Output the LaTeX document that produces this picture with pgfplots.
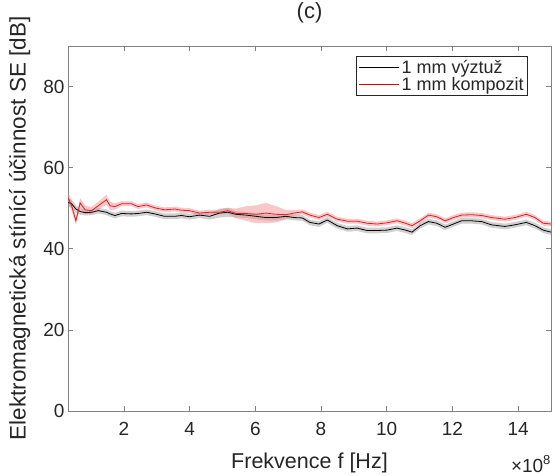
\documentclass[border=0pt]{standalone}
\usepackage{fontspec}
\setmainfont{Liberation Sans}
\usepackage{pgfplots}
\pgfplotsset{compat=1.18}
\usepackage{pgfplotstable}
\usepgfplotslibrary{fillbetween}

\definecolor{axgray}{RGB}{130,130,130}
\definecolor{txt}{RGB}{38,38,38}
\definecolor{redline}{RGB}{220,30,40}
\definecolor{pinkband}{RGB}{240,130,130}
\definecolor{grayband}{RGB}{150,150,150}

% x in 1e8 Hz, y = SE [dB], e = half width of the band
\pgfplotstableread{
x y e
0.31 51.4 1.0
0.41 51.1 1.0
0.54 49.8 0.9
0.67 49.2 0.8
0.82 48.9 0.7
1.02 49.0 0.7
1.22 49.4 0.7
1.47 49.0 0.7
1.58 48.6 0.7
1.73 48.2 0.7
1.93 48.7 0.7
2.23 48.6 0.7
2.43 48.7 0.7
2.69 49.0 0.7
2.94 48.6 0.7
3.24 48.0 0.7
3.55 48.0 0.7
3.75 48.2 0.7
4.00 47.9 0.7
4.30 48.3 0.7
4.61 48.0 0.8
4.91 48.8 1.1
5.16 49.0 1.1
5.41 48.5 0.8
5.72 48.3 0.7
6.02 48.0 0.7
6.32 47.7 0.7
6.63 47.7 0.7
6.93 48.0 0.7
7.18 47.7 0.7
7.43 47.6 0.7
7.66 46.5 0.7
7.94 46.1 0.7
8.19 47.1 0.7
8.49 45.7 0.7
8.80 44.9 0.7
9.10 45.1 0.7
9.40 44.5 0.7
9.71 44.5 0.7
10.01 44.6 0.7
10.31 45.1 0.7
10.57 44.6 0.7
10.77 44.1 0.7
11.02 45.7 0.7
11.27 46.7 0.7
11.52 46.3 0.7
11.78 45.3 0.7
12.03 46.1 0.7
12.28 46.9 0.7
12.58 46.9 0.7
12.89 46.7 0.7
13.19 45.9 0.7
13.60 45.5 0.7
13.90 45.9 0.7
14.25 46.5 0.7
14.51 45.7 0.7
14.76 44.6 0.7
15.00 44.1 0.7
}\vyztuz

\pgfplotstableread{
x y e
0.31 52.5 1.5
0.41 50.6 1.3
0.54 46.9 1.0
0.67 51.3 1.2
0.82 49.6 1.0
1.02 49.4 0.9
1.22 50.6 1.0
1.47 52.1 1.2
1.58 50.6 1.0
1.73 50.4 0.8
1.93 51.1 0.6
2.23 51.1 0.6
2.43 50.4 0.6
2.69 50.8 0.6
2.94 50.1 0.6
3.24 49.6 0.6
3.55 49.8 0.6
3.75 49.5 0.6
4.00 49.4 0.6
4.30 48.8 0.6
4.61 49.0 0.6
4.91 49.0 0.6
5.16 49.4 0.7
5.41 48.7 1.2
5.72 48.7 1.8
6.02 48.5 2.2
6.32 48.8 2.5
6.63 48.5 2.0
6.93 48.4 1.2
7.18 48.8 0.7
7.43 49.1 0.6
7.66 48.3 0.6
7.94 47.7 0.6
8.19 48.5 0.6
8.49 47.3 0.6
8.80 46.8 0.6
9.10 46.8 0.6
9.40 46.3 0.6
9.71 46.1 0.6
10.01 46.4 0.6
10.31 46.9 0.6
10.57 46.3 0.6
10.77 45.7 0.6
11.02 46.9 0.6
11.27 48.3 0.6
11.52 47.9 0.6
11.78 46.9 0.6
12.03 47.7 0.6
12.28 48.3 0.6
12.58 48.4 0.6
12.89 48.2 0.6
13.19 47.7 0.6
13.60 47.3 0.6
13.90 47.7 0.6
14.25 48.5 0.6
14.51 47.7 0.6
14.76 46.3 0.6
15.00 46.1 0.6
}\kompozit

\begin{document}
\begin{tikzpicture}
\begin{axis}[
  name=ax,
  scale only axis, width=483pt, height=365pt,
  xmin=0.3, xmax=15, ymin=0, ymax=90,
  xtick={2,4,6,8,10,12,14}, ytick={0,20,40,60,80},
  tick align=inside, major tick length=5pt,
  axis line style={axgray, line width=0.8pt}, tick style={axgray, line width=0.6pt},
  ticklabel style={font=\fontsize{19}{19}\selectfont, text=txt},
  xticklabel style={yshift=-8pt},
  /pgf/number format/assume math mode=true,
  xlabel={Frekvence f [Hz]},
  ylabel={Elektromagnetická stínící účinnost SE [dB]},
  label style={text=txt},
  xlabel style={font=\fontsize{21.5}{21.5}\selectfont, at={(axis description cs:0.5,0)}, anchor=center, yshift=-52pt},
  ylabel style={font=\fontsize{22.5}{22.5}\selectfont, at={(axis description cs:-0.1,0.5)}, anchor=center},
  legend style={at={(axis description cs:1,1)}, anchor=north east,
    xshift=-23pt, yshift=-10pt, draw=txt, line width=0.6pt,
    font=\fontsize{18}{18}\selectfont\color{txt},
    inner sep=2pt, row sep=-2pt},
  legend cell align=left,
]
% bands
\addplot[name path=bh, draw=none, forget plot] table[x=x, y expr=\thisrow{y}+\thisrow{e}] {\vyztuz};
\addplot[name path=bl, draw=none, forget plot] table[x=x, y expr=\thisrow{y}-\thisrow{e}] {\vyztuz};
\addplot[grayband, fill opacity=0.45, forget plot] fill between[of=bh and bl];
\addplot[name path=kh, draw=none, forget plot] table[x=x, y expr=\thisrow{y}+\thisrow{e}] {\kompozit};
\addplot[name path=kl, draw=none, forget plot] table[x=x, y expr=\thisrow{y}-\thisrow{e}] {\kompozit};
\addplot[pinkband, fill opacity=0.45, forget plot] fill between[of=kh and kl];
% lines
\addplot[black, line width=0.8pt,
  legend image code/.code={\draw[draw=black, line width=1pt] (0pt,0pt) -- (40pt,0pt);}]
  table[x=x, y=y] {\vyztuz};
\addplot[redline, line width=0.8pt,
  legend image code/.code={\draw[draw=red!85!black, line width=1.3pt] (0pt,0pt) -- (40pt,0pt);}]
  table[x=x, y=y] {\kompozit};
\legend{1 mm výztuž, 1 mm kompozit}
\end{axis}
\node[text=txt, anchor=east, font=\fontsize{19}{19}\selectfont]
  at ([xshift=3pt, yshift=-53pt]ax.south east) {×10\raisebox{0.45em}{\fontsize{13}{13}\selectfont 8}};
\node[text=txt, font=\fontsize{22}{22}\selectfont]
  at ([yshift=33pt]ax.north) {(c)};
\pgfresetboundingbox
\useasboundingbox ([xshift=-68pt,yshift=-65pt]ax.south west) rectangle ([xshift=4pt,yshift=46pt]ax.north east);
\end{tikzpicture}
\end{document}
